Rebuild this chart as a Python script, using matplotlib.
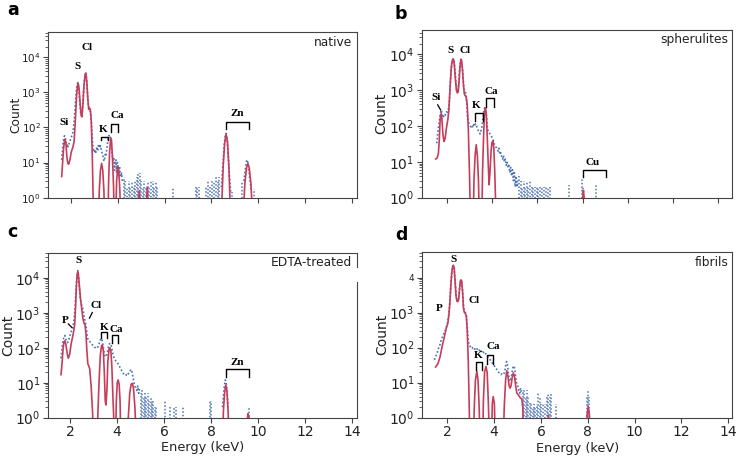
import numpy as np
import matplotlib
matplotlib.use("Agg")
import matplotlib.pyplot as plt
from matplotlib.patches import Rectangle
from matplotlib.ticker import FixedLocator, FixedFormatter

RED = "#c63d5b"
BLUE = "#4a72b3"
SERIF = ["Liberation Serif", "DejaVu Serif"]
DOT = (0, (1, 1.3))

# ---------------- panel a : native ----------------
A_FIT_E = [1.62, 1.66, 1.70, 1.74, 1.77, 1.80, 1.84, 1.88, 1.92, 1.97, 2.03, 2.10, 2.15, 2.20, 2.25, 2.29, 2.32,
           2.36, 2.41, 2.45, 2.48, 2.52, 2.57, 2.62, 2.65, 2.69, 2.73, 2.77, 2.80, 2.84, 2.88, 2.92, 2.96, 3.00,
           3.18, 3.22, 3.27, 3.32, 3.37, 3.42, 3.46,
           3.58, 3.62, 3.66, 3.71, 3.74, 3.78, 3.83, 3.87,
           3.92, 3.96, 4.01, 4.05, 4.10, 4.14,
           4.86, 4.92, 4.98, 5.20, 5.26, 5.32,
           8.43, 8.50, 8.56, 8.62, 8.68, 8.74, 8.80,
           9.35, 9.42, 9.49, 9.55, 9.61, 9.68, 9.75]
A_FIT_C = [4, 10, 25, 42, 46, 35, 15, 9.5, 9, 12, 20, 28, 40, 150, 700, 1500, 1800,
           1300, 450, 220, 200, 400, 1600, 3300, 3500, 2000, 700, 330, 350, 330, 150, 20, 1, 0.1,
           0.1, 1.5, 6, 9.5, 6, 1.5, 0.1,
           0.1, 3, 20, 50, 45, 15, 2, 0.1,
           0.3, 3, 7.4, 6, 1.5, 0.1,
           0.2, 1.6, 0.2, 0.2, 2, 0.2,
           0.5, 8, 35, 65, 40, 8, 0.5,
           0.3, 2.5, 7, 9.5, 7, 2.5, 0.3]
A_OBS_E = [1.62, 1.65, 1.68, 1.71, 1.74, 1.77, 1.80, 1.83, 1.86, 1.89, 1.92, 1.95, 1.98, 2.01, 2.04, 2.07, 2.10,
           2.13, 2.16, 2.19, 2.22, 2.25, 2.28, 2.31, 2.34, 2.37, 2.40, 2.43, 2.46, 2.49, 2.52, 2.55, 2.58, 2.61,
           2.64, 2.67, 2.70, 2.73, 2.76, 2.79, 2.82, 2.85, 2.88, 2.91, 2.94, 2.97, 3.00, 3.03, 3.06, 3.09, 3.12,
           3.15, 3.18, 3.21, 3.24, 3.27, 3.30, 3.33, 3.36, 3.39, 3.42, 3.45, 3.48, 3.51, 3.54, 3.57, 3.60, 3.63,
           3.66, 3.69, 3.72, 3.75, 3.78, 3.81, 3.84, 3.87, 3.90, 3.93, 3.96, 3.99, 4.02, 4.05, 4.08, 4.11, 4.14,
           4.17, 4.20]
A_OBS_C = [12, 20, 35, 50, 58, 52, 40, 30, 34, 28, 32, 38, 42, 48, 55, 62, 75,
           110, 180, 350, 700, 1200, 1700, 1900, 1500, 800, 420, 260, 220, 250, 500, 1100, 2000, 3000,
           3500, 2800, 1500, 700, 420, 380, 330, 260, 150, 70, 35, 24, 20, 24, 18, 22, 28,
           21, 30, 34, 26, 30, 24, 20, 17, 14, 11, 13, 18, 16, 24, 34, 48, 58,
           62, 52, 38, 24, 15, 11, 13, 6, 11, 12, 5, 10, 9, 4, 8, 5, 4,
           5, 3]
A_ZN_E = [8.42, 8.46, 8.50, 8.54, 8.58, 8.62, 8.66, 8.70, 8.74, 8.78, 8.82]
A_ZN_C = [2, 5, 12, 30, 55, 68, 50, 22, 8, 3, 1.5]
A_ZNB_E = [9.38, 9.42, 9.46, 9.50, 9.54, 9.58, 9.62, 9.66, 9.70]
A_ZNB_C = [3, 5, 8, 12, 11, 7, 4, 2.5, 1.5]
A_SPK_E = [4.26, 4.33, 4.40, 4.47, 4.54, 4.61, 4.68, 4.75, 4.82, 4.88, 4.94, 5.00, 5.07, 5.14, 5.21, 5.28,
           5.35, 5.42, 5.49, 5.56, 5.63, 5.69, 6.37, 7.33, 7.40, 7.47, 7.78, 7.86, 7.94, 8.02, 8.10, 8.18,
           8.26, 8.34, 8.88, 9.30, 9.80]
A_SPK_C = [4, 3, 2, 3, 2, 3, 2, 3, 4, 5.5, 5, 3, 2, 3, 2, 3,
           2, 3, 3, 2, 3, 2, 2, 2, 2, 2, 2, 3, 2, 3, 3, 4,
           3, 4, 1.5, 3, 1.8]

# ---------------- panel b : spherulites ----------------
B_FIT_E = [1.48, 1.55, 1.60, 1.64, 1.67, 1.70, 1.73, 1.76, 1.80, 1.85, 1.90, 1.96, 2.02, 2.07, 2.12, 2.17, 2.21,
           2.25, 2.28, 2.31, 2.35, 2.40, 2.44, 2.48, 2.52, 2.56, 2.60, 2.63, 2.67, 2.71, 2.75, 2.79, 2.83, 2.88,
           2.93, 2.98, 3.04,
           3.14, 3.18, 3.23, 3.28, 3.33, 3.38, 3.43,
           3.52, 3.56, 3.61, 3.65, 3.69, 3.73, 3.77, 3.81, 3.85, 3.89, 3.94, 3.98, 4.02, 4.06, 4.10, 4.14, 4.17,
           7.95, 8.01, 8.04, 8.07, 8.13]
B_FIT_C = [12, 13, 17, 40, 120, 210, 220, 150, 60, 37, 45, 90, 150, 300, 1200, 4000, 6500,
           7400, 7000, 5000, 2200, 1000, 840, 900, 1800, 4500, 7200, 6800, 3800, 1500, 800, 700, 680, 400,
           80, 5, 0.1,
           0.1, 3, 15, 30, 15, 3, 0.1,
           0.1, 5, 60, 250, 320, 200, 50, 10, 2.3, 5, 20, 35, 38, 25, 6, 0.8, 0.05,
           0.05, 1.0, 1.6, 1.0, 0.05]
B_OBS_E = [1.53, 1.57, 1.61, 1.65, 1.69, 1.72, 1.75, 1.78, 1.81, 1.84, 1.87, 1.90, 1.93, 1.96, 1.99, 2.02, 2.05,
           2.08, 2.11, 2.14, 2.18, 2.22, 2.26, 2.30, 2.34, 2.38, 2.42, 2.46, 2.50, 2.54, 2.58, 2.61, 2.65, 2.69,
           2.73, 2.77, 2.81, 2.85, 2.89, 2.93, 2.97, 3.01, 3.05, 3.09, 3.13, 3.17, 3.21, 3.25, 3.29, 3.33, 3.37,
           3.41, 3.45, 3.49, 3.53, 3.57, 3.61, 3.65, 3.69, 3.73, 3.77, 3.81, 3.85, 3.89, 3.93, 3.97, 4.01, 4.05,
           4.09, 4.13, 4.17, 4.21, 4.25, 4.29, 4.33, 4.37, 4.41, 4.45, 4.49, 4.53, 4.57, 4.61, 4.65, 4.69, 4.73,
           4.77, 4.81, 4.85, 4.89, 4.93, 4.97, 5.01, 5.05, 5.09, 5.13]
B_OBS_C = [33, 60, 100, 150, 220, 280, 250, 200, 170, 190, 210, 200, 230, 250, 240, 270, 300,
           450, 900, 2000, 4500, 6800, 7500, 6500, 3500, 1600, 1000, 950, 1500, 3500, 6500, 7300, 5500, 2500,
           1200, 900, 850, 500, 200, 130, 110, 100, 95, 105, 90, 110, 100, 115, 105, 85, 75,
           70, 60, 75, 90, 150, 250, 320, 300, 200, 100, 70, 65, 60, 55, 50, 45, 38,
           30, 28, 25, 22, 20, 24, 16, 18, 14, 12, 15, 10, 12, 8, 10, 7, 8,
           5, 7, 4, 6, 3, 5, 2, 4, 2, 3]
B_SPK_E = [5.18, 5.25, 5.32, 5.39, 5.46, 5.53, 5.60, 5.67, 5.74, 5.81, 5.88, 5.96, 6.04, 6.12, 6.20, 6.28,
           6.38, 6.47, 6.56, 7.38, 7.97, 8.04, 8.60]
B_SPK_C = [4, 3, 2, 3, 2, 3, 2, 3, 2, 2, 2, 2, 2, 2, 2, 2,
           2, 2, 2.2, 2.3, 3.5, 2, 2.2]

# ---------------- panel c : EDTA-treated ----------------
C_FIT_E = [1.62, 1.67, 1.71, 1.75, 1.79, 1.83, 1.88, 1.93, 1.99, 2.05, 2.11, 2.16, 2.20, 2.24, 2.27, 2.30, 2.33,
           2.36, 2.40, 2.45, 2.50, 2.55, 2.60, 2.64, 2.68, 2.72, 2.76, 2.80, 2.84, 2.90, 2.96, 3.02,
           3.14, 3.19, 3.24, 3.29, 3.34, 3.38, 3.42, 3.46, 3.50, 3.53, 3.57, 3.61, 3.66, 3.70, 3.74, 3.78, 3.82,
           3.86, 3.90,
           3.93, 3.97, 4.01, 4.05, 4.09, 4.13, 4.17,
           4.42, 4.48, 4.54, 4.60, 4.65, 4.70, 4.76, 4.84,
           8.47, 8.52, 8.57, 8.62, 8.67, 8.72, 8.78,
           9.52, 9.56, 9.60, 9.64]
C_FIT_C = [17, 40, 100, 150, 158, 120, 70, 50, 65, 130, 200, 300, 450, 1500, 5000, 11000, 14800,
           12000, 6000, 2500, 1300, 700, 500, 450, 250, 80, 35, 30, 25, 8, 1.5, 0.1,
           0.1, 1.5, 12, 60, 115, 120, 80, 20, 3, 2.3, 6, 40, 90, 100, 80, 30, 5,
           1, 0.1,
           0.1, 3, 10, 12, 9, 3, 0.1,
           0.1, 1, 5, 9, 9.6, 7, 2, 0.1,
           0.1, 1.5, 5, 8.6, 6, 1.5, 0.1,
           0.5, 1.3, 1.1, 0.5]
C_OBS_E = [1.62, 1.66, 1.70, 1.74, 1.78, 1.82, 1.86, 1.90, 1.94, 1.98, 2.02, 2.06, 2.10, 2.14, 2.18, 2.22, 2.26,
           2.30, 2.33, 2.36, 2.40, 2.44, 2.48, 2.52, 2.56, 2.60, 2.64, 2.68, 2.72, 2.76, 2.80, 2.84, 2.88, 2.92,
           2.96, 3.00, 3.04, 3.08, 3.12, 3.16, 3.20, 3.24, 3.28, 3.32, 3.36, 3.40, 3.44, 3.48, 3.52, 3.56, 3.60,
           3.64, 3.68, 3.72, 3.76, 3.80, 3.84, 3.88, 3.92, 3.96, 4.00, 4.04, 4.08, 4.12, 4.16, 4.20, 4.24, 4.28,
           4.32, 4.36, 4.40, 4.44, 4.48, 4.52, 4.56, 4.60, 4.64, 4.68, 4.72, 4.76, 4.80, 4.84, 4.88, 4.92, 4.96]
C_OBS_C = [50, 90, 150, 200, 225, 180, 150, 140, 160, 200, 250, 300, 330, 450, 700, 1500, 5000,
           12000, 16000, 12000, 5000, 2500, 1800, 1500, 1200, 800, 600, 450, 250, 180, 160, 150, 140, 130,
           120, 115, 105, 100, 95, 100, 110, 130, 160, 185, 170, 120, 80, 60, 55, 60, 80,
           110, 130, 134, 110, 80, 60, 50, 45, 40, 38, 35, 32, 28, 25, 22, 20, 18,
           17, 16, 17, 16, 18, 20, 22, 24, 20, 14, 10, 8, 7, 6, 8, 5, 7]
C_ZN_E = [8.48, 8.52, 8.56, 8.60, 8.64, 8.68, 8.72]
C_ZN_C = [2, 4, 8, 12, 10, 5, 2]
C_SPK_E = [5.01, 5.07, 5.13, 5.19, 5.25, 5.31, 5.37, 5.43, 5.49, 5.55, 5.61, 5.67, 6.04, 6.25, 6.43, 6.49,
           6.82, 7.95, 8.01, 9.60]
C_SPK_C = [5, 6, 4, 5, 4, 5, 3, 4, 3, 3, 2, 2, 3.2, 2, 2, 2,
           2, 3.2, 3, 2]

# ---------------- panel d : fibrils ----------------
D_FIT_E = [1.50, 1.60, 1.69, 1.78, 1.87, 1.95, 2.02, 2.07, 2.11, 2.15, 2.19, 2.23, 2.26, 2.29, 2.33, 2.37, 2.41,
           2.44, 2.48, 2.52, 2.55, 2.58, 2.61, 2.65, 2.69, 2.73, 2.77, 2.81, 2.85, 2.89, 2.93, 2.97,
           3.10, 3.15, 3.20, 3.26, 3.31, 3.36, 3.40,
           3.50, 3.54, 3.59, 3.65, 3.70, 3.75, 3.81,
           3.88, 3.92, 3.96, 4.01, 4.06,
           4.38, 4.43, 4.49, 4.54, 4.59, 4.64, 4.68, 4.72, 4.77, 4.82, 4.87, 4.92, 4.97, 5.03, 5.08, 5.13, 5.18,
           5.22, 5.26, 5.30,
           6.26, 6.32, 6.38,
           7.92, 7.97, 8.02, 8.07, 8.12]
D_FIT_C = [28, 35, 55, 110, 200, 350, 500, 900, 2000, 6000, 14000, 21000, 22000, 19000, 8000, 3000, 2100,
           2050, 2300, 4500, 7500, 8600, 8000, 4000, 1300, 1000, 950, 800, 300, 50, 3, 0.1,
           0.1, 2, 12, 21, 12, 2, 0.1,
           0.1, 3, 20, 29, 20, 3, 0.1,
           0.1, 2.5, 4, 2.5, 0.1,
           0.1, 2, 12, 22, 15, 8, 7, 8, 14, 19, 15, 8, 5, 4.5, 4, 3.6, 3.5,
           2, 0.3, 0.05,
           0.1, 1.2, 0.1,
           0.1, 1.2, 2.1, 1.2, 0.1]
D_OBS_E = [1.44, 1.50, 1.56, 1.62, 1.68, 1.74, 1.80, 1.86, 1.92, 1.97, 2.02, 2.07, 2.11, 2.15, 2.19, 2.23, 2.26,
           2.29, 2.33, 2.37, 2.41, 2.44, 2.48, 2.52, 2.55, 2.58, 2.61, 2.65, 2.69, 2.73, 2.77, 2.81, 2.85, 2.89,
           2.93, 2.97, 3.01, 3.05, 3.09, 3.13, 3.17, 3.21, 3.25, 3.29, 3.33, 3.37, 3.41, 3.45, 3.49, 3.53, 3.57,
           3.61, 3.65, 3.69, 3.73, 3.77, 3.81, 3.85, 3.89, 3.93, 3.97, 4.01, 4.05, 4.09, 4.13, 4.17, 4.21, 4.25,
           4.29, 4.33, 4.37, 4.41, 4.45, 4.49, 4.53, 4.57, 4.61, 4.65, 4.69, 4.73, 4.77, 4.81, 4.85, 4.89, 4.93,
           4.97, 5.01, 5.05, 5.09, 5.13, 5.17]
D_OBS_C = [45, 55, 70, 95, 120, 170, 210, 260, 320, 420, 550, 1000, 2200, 6500, 14000, 21000, 22500,
           19000, 8500, 3500, 2300, 2100, 2400, 4600, 7500, 8500, 7800, 4200, 1500, 1100, 1000, 850, 400, 160,
           120, 110, 100, 105, 95, 100, 90, 95, 100, 85, 80, 85, 75, 80, 70, 75, 68,
           72, 65, 60, 55, 50, 48, 42, 38, 36, 32, 30, 27, 25, 22, 21, 19, 18,
           17, 18, 17, 18, 20, 30, 40, 32, 18, 12, 11, 14, 20, 29, 30, 22, 12,
           9, 8, 6, 5, 7, 4.6]
D_SPK_E = [5.22, 5.28, 5.34, 5.40, 5.46, 5.52, 5.58, 5.64, 5.70, 5.76, 5.82, 5.88, 5.94, 6.02, 6.10, 6.18,
           6.26, 6.32, 6.38, 6.44, 6.66, 7.96, 8.00, 8.04]
D_SPK_C = [6, 7, 4, 6, 4, 2.6, 2.5, 2, 2.5, 2, 2.5, 5, 4, 2.5, 2.7, 2.5,
           4, 5, 4, 5, 2.4, 4, 6.2, 4]


W, H = 736, 459
fig = plt.figure(figsize=(W / 100, H / 100), dpi=100)


def px_axes(l, t, r, b):
    return fig.add_axes([l / W, 1 - b / H, (r - l) / W, (b - t) / H])


def style(ax, xlim, ytop, tick_fs, show_x):
    ax.set_yscale("log", nonpositive="clip")
    ax.set_xlim(*xlim)
    ax.set_ylim(1, ytop)
    ax.set_xticks([2, 4, 6, 8, 10, 12, 14])
    for s in ax.spines.values():
        s.set_color("#444444")
        s.set_linewidth(0.8)
    ax.tick_params(axis="both", which="major", length=3.5, width=0.8, color="#444444",
                   labelsize=tick_fs, labelcolor="#222222", pad=2)
    ax.tick_params(axis="y", which="minor", length=2, width=0.6, color="#444444")
    if not show_x:
        ax.tick_params(axis="x", labelbottom=False)


PHASES = [0.0, 0.9, 1.6, 0.4, 1.2]


def draw(ax, fit_e, fit_c, segments, spk_e, spk_c):
    for e, c in segments:
        ax.plot(e, c, color=BLUE, lw=1.2, linestyle=DOT, zorder=2)
    styles = [(PHASES[i % len(PHASES)], (1, 1.3)) for i in range(len(spk_e))]
    ax.vlines(spk_e, 0.3, spk_c, colors=BLUE, lw=1.1, linestyles=styles, zorder=2)
    ax.plot(fit_e, fit_c, color=RED, lw=1.2, zorder=3)


def elem(ax, x, y, s, fs=8):
    ax.text(x, y, s, family=SERIF, fontweight="bold", fontsize=fs, ha="center", va="center", zorder=5)


def bracket(ax, e1, e2, top, leg):
    ax.plot([e1, e1, e2, e2], [leg, top, top, leg], color="black", lw=1.0, zorder=5)


def sample(ax, s, dx, dy):
    ax.annotate(s, xy=(1, 1), xycoords="axes fraction", xytext=(dx, dy), textcoords="offset points",
                ha="right", va="center", fontsize=8.8, color="#222222")


# panel a
axa = px_axes(48.3, 32.3, 357.3, 197.7)
style(axa, (1.05, 14.21), 10 ** 4.71, 7.5, False)
draw(axa, A_FIT_E, A_FIT_C, [(A_OBS_E, A_OBS_C), (A_ZN_E, A_ZN_C), (A_ZNB_E, A_ZNB_C)], A_SPK_E, A_SPK_C)
elem(axa, 1.73, 137, "Si")
elem(axa, 2.28, 5600, "S")
elem(axa, 2.68, 18700, "Cl")
elem(axa, 3.40, 89, "K")
elem(axa, 4.00, 213, "Ca")
elem(axa, 9.10, 253, "Zn")
bracket(axa, 3.29, 3.60, 55, 43)
bracket(axa, 3.71, 4.02, 126, 76)
bracket(axa, 8.60, 9.60, 146, 89)
sample(axa, "native", -3.6, -7.2)
axa.set_ylabel("Count", fontsize=8.8, va="center", color="#222222")
axa.yaxis.set_label_coords(-0.105, 0.5)

# panel b
axb = px_axes(421.7, 30.0, 731.7, 197.7)
style(axb, (0.86, 14.62), 10 ** 4.68, 10, False)
draw(axb, B_FIT_E, B_FIT_C, [(B_OBS_E, B_OBS_C)], B_SPK_E, B_SPK_C)
elem(axb, 1.48, 620, "Si")
axb.plot([1.57, 1.70], [390, 280], color="black", lw=0.9, zorder=5)
elem(axb, 2.12, 12500, "S")
elem(axb, 2.79, 12500, "Cl")
elem(axb, 3.28, 365, "K")
elem(axb, 3.94, 910, "Ca")
elem(axb, 8.46, 9.5, "Cu")
bracket(axb, 3.23, 3.60, 228, 137)
bracket(axb, 3.71, 4.08, 620, 345)
bracket(axb, 8.00, 9.04, 5.9, 3.7)
sample(axb, "spherulites", -2.4, -7.2)
axb.set_ylabel("Count", fontsize=10, va="center", color="#222222")
axb.yaxis.set_label_coords(-0.129, 0.5)

# panel c
axc = px_axes(48.3, 253.3, 357.3, 417.7)
style(axc, (1.08, 14.21), 10 ** 4.70, 10, True)
draw(axc, C_FIT_E, C_FIT_C, [(C_OBS_E, C_OBS_C), (C_ZN_E, C_ZN_C)], C_SPK_E, C_SPK_C)
elem(axc, 2.35, 32000, "S")
elem(axc, 1.82, 620, "P")
axc.plot([1.93, 2.08], [480, 380], color="black", lw=0.9, zorder=5)
elem(axc, 3.09, 1660, "Cl")
axc.plot([2.95, 2.83], [1020, 700], color="black", lw=0.9, zorder=5)
elem(axc, 3.46, 370, "K")
elem(axc, 3.98, 335, "Ca")
elem(axc, 9.11, 38, "Zn")
bracket(axc, 3.32, 3.59, 275, 195)
bracket(axc, 3.77, 4.05, 229, 135)
bracket(axc, 8.62, 9.60, 24.5, 14.8)
sample(axc, "EDTA-treated", -3.6, -6.3)
axc.set_ylabel("Count", fontsize=10, va="center", color="#222222")
axc.yaxis.set_label_coords(-0.129, 0.5)
axc.set_xlabel("Energy (keV)", fontsize=9.3, va="center", color="#222222")
axc.xaxis.set_label_coords(0.5, -0.183)
fig.patches.append(Rectangle((355.5 / W, 1 - 281.7 / H), 4 / W, 13.4 / H, transform=fig.transFigure,
                             facecolor="white", edgecolor="none", zorder=10))

# panel d
axd = px_axes(422.3, 252.0, 732.0, 417.7)
style(axd, (0.93, 14.16), 10 ** 4.73, 10, True)
draw(axd, D_FIT_E, D_FIT_C, [(D_OBS_E, D_OBS_C)], D_SPK_E, D_SPK_C)
axd.yaxis.set_major_locator(FixedLocator([1, 10, 100, 1000, 10000]))
axd.yaxis.set_major_formatter(FixedFormatter(["$10^{0}$", "$10^{1}$", "$10^{2}$", "$10^{3}$", "4"]))
fig.canvas.draw()
axd.get_yticklabels()[-1].set_fontsize(6.5)
elem(axd, 2.26, 33500, "S")
elem(axd, 1.65, 1340, "P")
elem(axd, 3.15, 2150, "Cl")
elem(axd, 3.32, 58, "K")
elem(axd, 3.94, 107, "Ca")
bracket(axd, 3.23, 3.47, 40, 23)
bracket(axd, 3.71, 3.94, 62, 35)
sample(axd, "fibrils", -2.7, -7.6)
axd.set_ylabel("Count", fontsize=10, va="center", color="#222222")
axd.yaxis.set_label_coords(-0.128, 0.5)
axd.set_xlabel("Energy (keV)", fontsize=9.3, va="center", color="#222222")
axd.xaxis.set_label_coords(0.5, -0.183)

# panel letters
for s, x, y in [("a", 7, 15), ("b", 395, 19.3), ("c", 7, 236.7), ("d", 395, 240)]:
    fig.text(x / W, 1 - y / H, s, fontsize=12.5, fontweight="bold", va="baseline", ha="left")

fig.savefig("out.png", dpi=100)
